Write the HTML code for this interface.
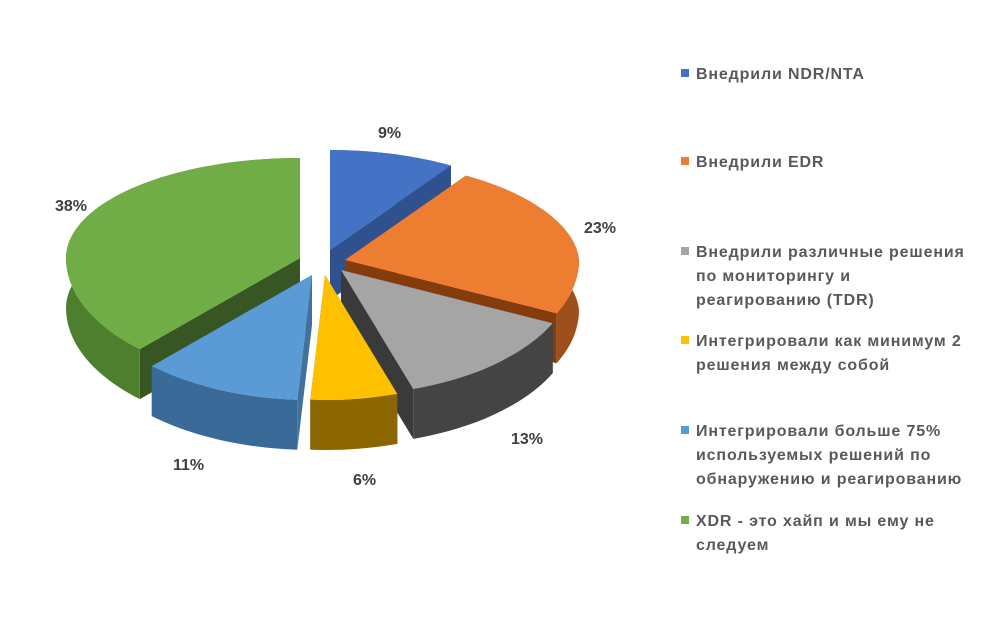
<!DOCTYPE html>
<html><head><meta charset="utf-8"><style>
body{margin:0;background:#fff;}
svg{display:block;}
.lg{font-family:"Liberation Sans",sans-serif;font-weight:bold;font-size:16px;letter-spacing:0.85px;fill:#595959;}
.pl{font-family:"Liberation Sans",sans-serif;font-weight:bold;font-size:16px;fill:#404040;}
</style></head><body>
<svg id="s" width="983" height="628" viewBox="0 0 983 628" xmlns="http://www.w3.org/2000/svg">
<g id="pie"></g>
<text class="pl" x="378" y="138">9%</text>
<text class="pl" x="584" y="233">23%</text>
<text class="pl" x="511" y="444">13%</text>
<text class="pl" x="353" y="485">6%</text>
<text class="pl" x="173" y="470">11%</text>
<text class="pl" x="55" y="211">38%</text>
<rect x="681" y="69" width="8" height="8" fill="#4472C4"/>
<text class="lg" x="696" y="79">Внедрили NDR/NTA</text>
<rect x="681" y="157" width="8" height="8" fill="#ED7D31"/>
<text class="lg" x="696" y="167">Внедрили EDR</text>
<rect x="681" y="247" width="8" height="8" fill="#A5A5A5"/>
<text class="lg" x="696" y="257">Внедрили различные решения</text>
<text class="lg" x="696" y="281">по мониторингу и</text>
<text class="lg" x="696" y="305">реагированию (TDR)</text>
<rect x="681" y="336" width="8" height="8" fill="#FFC000"/>
<text class="lg" x="696" y="346">Интегрировали как минимум 2</text>
<text class="lg" x="696" y="370">решения между собой</text>
<rect x="681" y="426" width="8" height="8" fill="#5B9BD5"/>
<text class="lg" x="696" y="436">Интегрировали больше 75%</text>
<text class="lg" x="696" y="460">используемых решений по</text>
<text class="lg" x="696" y="484">обнаружению и реагированию</text>
<rect x="681" y="516" width="8" height="8" fill="#70AD47"/>
<text class="lg" x="696" y="526">XDR - это хайп и мы ему не</text>
<text class="lg" x="696" y="550">следуем</text>
</svg>
<script>
var RX=234,RYB=100,RYF=125,D=50;
var sl=[
 {a0:0,a1:32.4,c:[330,250],top:"#4472C4",side:"#2F528F",rad:"#2F528F"},
 {a0:32.4,a1:115.2,c:[345,260],top:"#ED7D31",side:"#9E4F1B",rad:"#843C0C"},
 {a0:223.2,a1:360,c:[300,258],top:"#70AD47",side:"#4E7F2F",rad:"#375623"},
 {a0:183.6,a1:223.2,c:[312,275],top:"#5B9BD5",side:"#3A6A98",rad:"#41719C"},
 {a0:115.2,a1:162,c:[341,270],top:"#A5A5A5",side:"#444444",rad:"#3A3A3A"},
 {a0:162,a1:183.6,c:[325,275],top:"#FFC000",side:"#8A6500",rad:"#7F6000"}
];
function pt(c,t,dy){var r=t*Math.PI/180,co=Math.cos(r),si=Math.sin(r);var ry=co>0?RYB:RYF;var rx=(co>0&&si>0)?RX-10*co:RX;return [c[0]+rx*si,c[1]-ry*co+(dy||0)];}
function arc(c,a0,a1,dy){var p=[];var n=Math.max(4,Math.ceil((a1-a0)/2));for(var i=0;i<=n;i++)p.push(pt(c,a0+(a1-a0)*i/n,dy));return p;}
function poly(pts,f){return '<polygon points="'+pts.map(function(p){return p[0].toFixed(1)+','+p[1].toFixed(1)}).join(' ')+'" fill="'+f+'"/>';}
var h='';
sl.forEach(function(s){
 var c=s.c,cb=[c[0],c[1]+D];
 [s.a0,s.a1].forEach(function(a){var e=pt(c,a),eb=pt(c,a,D);h+=poly([c,e,eb,cb],s.rad);});
 var t=arc(c,s.a0,s.a1,0),b=arc(c,s.a0,s.a1,D).reverse();
 h+=poly(t.concat(b),s.side);
 h+=poly([c].concat(t),s.top);
});
document.getElementById('pie').innerHTML=h;
</script>
</body></html>
